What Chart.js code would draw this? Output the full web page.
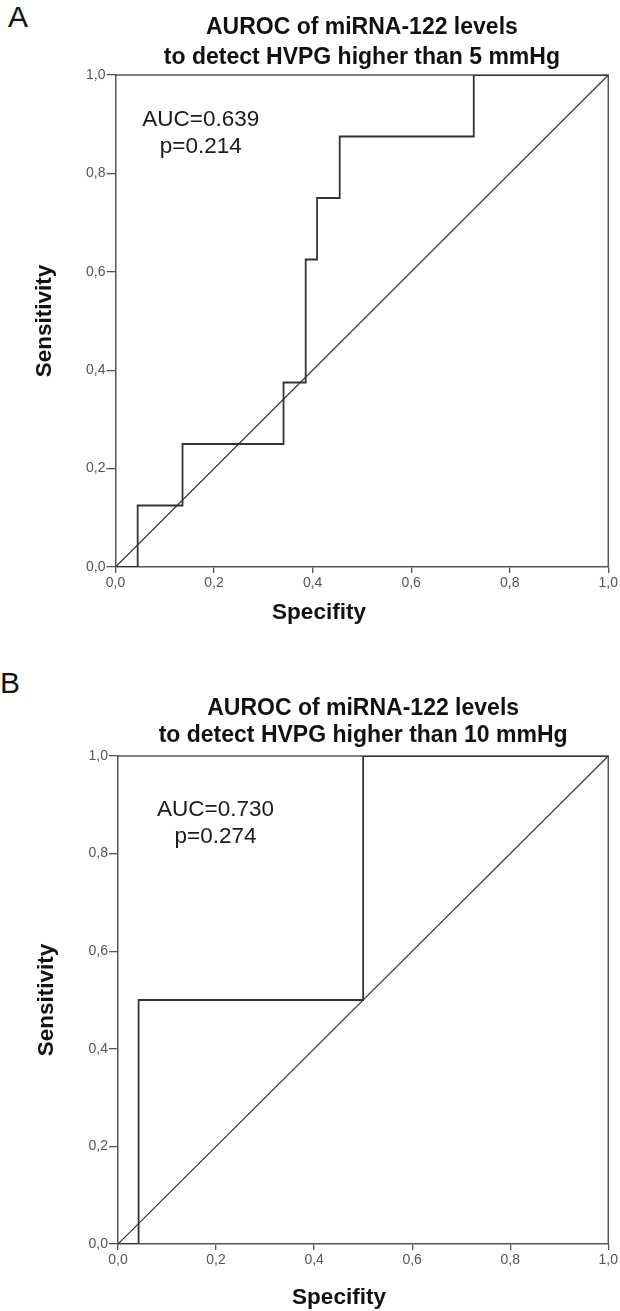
<!DOCTYPE html>
<html>
<head>
<meta charset="utf-8">
<script src="https://cdn.jsdelivr.net/npm/chart.js@4/dist/chart.umd.min.js"></script>
<style>
  html, body { margin:0; padding:0; background:#fff; }
  body { width:620px; height:1311px; position:relative; overflow:hidden; font-family:'Liberation Sans', Arial, sans-serif; }
  canvas { position:absolute; left:0; }
  .panel { position:absolute; font-size:30px; line-height:30px; color:#111; }
</style>
</head>
<body>
<div class="panel" style="left:8px; top:2px;">A</div>
<div class="panel" style="left:0px; top:668px;">B</div>
<canvas id="cA" width="620" height="640" style="top:0px;"></canvas>
<canvas id="cB" width="620" height="671" style="top:640px;"></canvas>
<script>
// ---- data ----
const tickValues = [0, 0.2, 0.4, 0.6, 0.8, 1.0];
const tickLabels = ['0,0', '0,2', '0,4', '0,6', '0,8', '1,0'];
const diagX = [0, 1];
const diagY = [0, 1];

const titleA = ['AUROC of miRNA-122 levels', 'to detect HVPG higher than 5 mmHg'];
const fprA = [0, 0.045, 0.045, 0.136, 0.136, 0.341, 0.341, 0.386, 0.386, 0.409, 0.409, 0.455, 0.455, 0.727, 0.727, 1];
const tprA = [0, 0, 0.125, 0.125, 0.25, 0.25, 0.375, 0.375, 0.625, 0.625, 0.75, 0.75, 0.875, 0.875, 1, 1];
const statsA = ['AUC=0.639', 'p=0.214'];

const titleB = ['AUROC of miRNA-122 levels', 'to detect HVPG higher than 10 mmHg'];
const fprB = [0, 0.042, 0.042, 0.5, 0.5, 1];
const tprB = [0, 0, 0.5, 0.5, 1, 1];
const statsB = ['AUC=0.730', 'p=0.274'];

const xTitle = 'Specifity';
const yTitle = 'Sensitivity';

const FONT = "'Liberation Sans', Arial, sans-serif";
Chart.defaults.font.family = FONT;

const toPts = (xs, ys) => xs.map((x, i) => ({ x: x, y: ys[i] }));

const extrasPlugin = {
  id: 'extras',
  beforeDatasetsDraw(chart) {
    const a = chart.chartArea, ctx = chart.ctx;
    ctx.save();
    ctx.strokeStyle = '#555';
    ctx.lineWidth = 1.5;
    ctx.beginPath();
    ctx.moveTo(a.left, a.top);
    ctx.lineTo(a.right, a.top);
    ctx.lineTo(a.right, a.bottom);
    ctx.stroke();
    ctx.restore();
  },
  afterDraw(chart, args, o) {
    const ctx = chart.ctx, a = chart.chartArea;
    const xs = chart.scales.x, ys = chart.scales.y;
    ctx.save();
    ctx.fillStyle = '#1a1a1a';
    ctx.textAlign = 'center';
    ctx.textBaseline = 'middle';
    ctx.font = '22.5px ' + FONT;
    ctx.fillText(o.stats[0], xs.getPixelForValue(o.statX), ys.getPixelForValue(o.statY1));
    ctx.fillText(o.stats[1], xs.getPixelForValue(o.statX), ys.getPixelForValue(o.statY2));
    ctx.font = 'bold 22.5px ' + FONT;
    ctx.fillStyle = '#111';
    ctx.fillText(xTitle, o.xTitleX, a.bottom + o.xTitleDy);
    ctx.restore();
  }
};

function makeChart(id, title, fpr, tpr, stats, L) {
  return new Chart(document.getElementById(id), {
    type: 'scatter',
    data: {
      datasets: [
        { data: toPts(fpr, tpr), showLine: true, borderColor: '#333', borderWidth: 1.8,
          pointRadius: 0, fill: false, tension: 0 },
        { data: toPts(diagX, diagY), showLine: true, borderColor: '#333', borderWidth: 1.2,
          pointRadius: 0, fill: false, tension: 0 }
      ]
    },
    options: {
      responsive: false,
      animation: false,
      devicePixelRatio: 1,
      layout: { padding: { left: 0, right: L.padRight, top: 0, bottom: 0 } },
      plugins: {
        legend: { display: false },
        tooltip: { enabled: false },
        title: {
          display: true, text: title, fullSize: false, color: '#111',
          font: { size: 23, weight: 'bold', lineHeight: L.titleLH },
          padding: { top: L.titleTop, bottom: L.titleBottom }
        },
        extras: { stats: stats, statX: L.statX, statY1: L.statY1, statY2: L.statY2,
                  xTitleX: L.xTitleX, xTitleDy: L.xTitleDy }
      },
      scales: {
        x: {
          type: 'linear', min: 0, max: 1,
          afterBuildTicks: s => { s.ticks = tickValues.map(v => ({ value: v })); },
          afterFit: s => { s.height = L.xAxisH; },
          ticks: { color: '#555', font: { size: 14 }, padding: 2, maxRotation: 0,
                   callback: (v, i) => tickLabels[i] },
          grid: { display: true, drawOnChartArea: false, drawTicks: true, tickLength: 6,
                  color: '#555', lineWidth: 1.3 },
          border: { display: true, color: '#555', width: 1.5 }
        },
        y: {
          type: 'linear', min: 0, max: 1,
          afterBuildTicks: s => { s.ticks = tickValues.map(v => ({ value: v })); },
          afterFit: s => { s.width = L.yAxisW; },
          ticks: { color: '#555', font: { size: 14 }, padding: 1,
                   callback: (v, i) => tickLabels[i] },
          grid: { display: true, drawOnChartArea: false, drawTicks: true, tickLength: 9,
                  color: '#555', lineWidth: 1.3 },
          border: { display: true, color: '#555', width: 1.5 },
          title: { display: true, text: yTitle, color: '#111',
                   font: { size: 22.5, weight: 'bold', lineHeight: 1 },
                   padding: { top: L.yTitlePad, bottom: 0 } }
        }
      }
    },
    plugins: [extrasPlugin]
  });
}

makeChart('cA', titleA, fprA, tprA, statsA, {
  padRight: 9.5, titleLH: 1.3, titleTop: 13, titleBottom: 2.2,
  xAxisH: 73, yAxisW: 115.5, yTitlePad: 34,
  statX: 0.173, statY1: 0.908, statY2: 0.854, xTitleX: 319, xTitleDy: 46
});
makeChart('cB', titleB, fprB, tprB, statsB, {
  padRight: 10, titleLH: 1.174, titleTop: 55.5, titleBottom: 6.5,
  xAxisH: 67, yAxisW: 118, yTitlePad: 36,
  statX: 0.199, statY1: 0.889, statY2: 0.835, xTitleX: 339, xTitleDy: 54
});
</script>
</body>
</html>
